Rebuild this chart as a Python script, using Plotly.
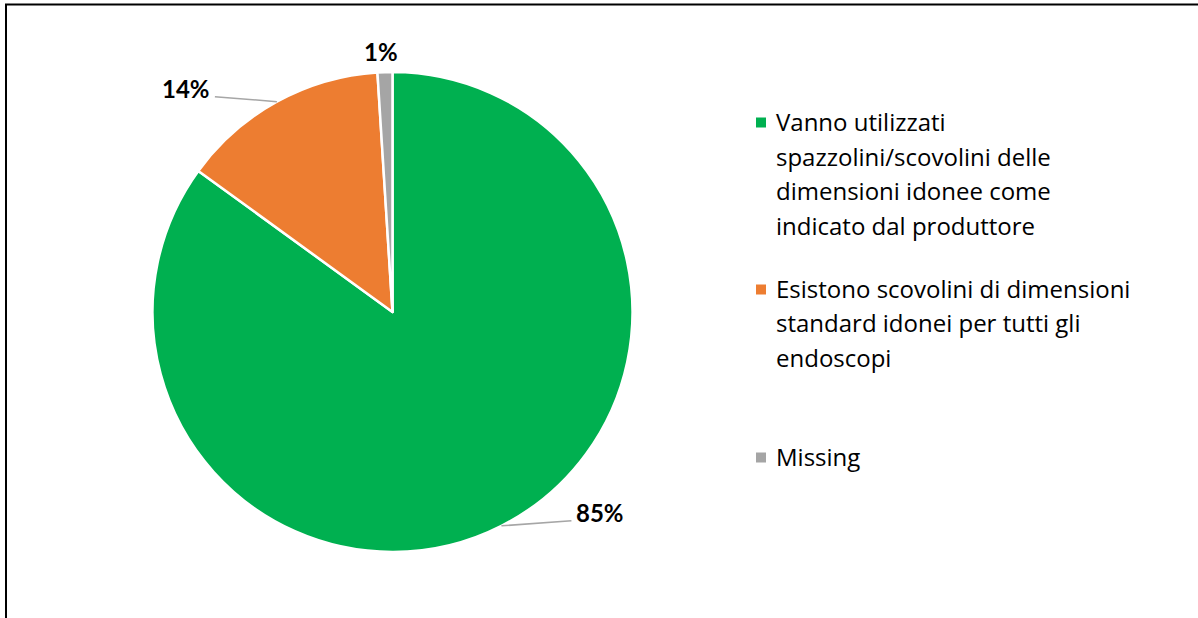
import math
import plotly.graph_objects as go

# --- data ---------------------------------------------------------------
categories = [
    "Vanno utilizzati spazzolini/scovolini delle dimensioni idonee come indicato dal produttore",
    "Esistono scovolini di dimensioni standard idonei per tutti gli endoscopi",
    "Missing",
]
legend_lines = [
    ["Vanno utilizzati", "spazzolini/scovolini delle", "dimensioni idonee come", "indicato dal produttore"],
    ["Esistono scovolini di dimensioni", "standard idonei per tutti gli", "endoscopi"],
    ["Missing"],
]
percentages = [85, 14, 1]
colors = ["#00B050", "#ED7D31", "#A5A5A5"]

# --- geometry (pixels) --------------------------------------------------
W, H = 1198, 618
CX, CY, R = 392.5, 312.0, 240.0

# label placement relative to the slice's mid-point on the rim: (label dx, dy, leader end dx, dy)
label_offsets = [(99, -13, 70, -5), (-91, -13, -62, -5), (-3.5, -20.5, None, None)]


def px(x):
    return x / W


def py(y):
    return 1 - y / H


fig = go.Figure(
    go.Pie(
        labels=categories,
        values=percentages,
        marker=dict(colors=colors, line=dict(color="white", width=2.5)),
        sort=False,
        direction="clockwise",
        rotation=0,
        textinfo="none",
        hoverinfo="label+percent",
        showlegend=False,
        domain=dict(x=[px(CX - R), px(CX + R)], y=[py(CY + R), py(CY - R)]),
    )
)

annotations = []
shapes = []

# percentage labels with leader lines, positioned from each slice's mid angle
total = sum(percentages)
cum = 0.0
for val, (ldx, ldy, ex, ey) in zip(percentages, label_offsets):
    mid = (cum + val / 2) / total
    cum += val
    theta = 2 * math.pi * mid
    ax = CX + R * math.sin(theta)
    ay = CY - R * math.cos(theta)
    annotations.append(dict(
        x=px(ax + ldx), y=py(ay + ldy), xref="paper", yref="paper",
        text=f"<b>{val}%</b>", showarrow=False, xanchor="center", yanchor="middle",
        font=dict(family="Lato", size=24, color="#000000"),
    ))
    if ex is not None:
        shapes.append(dict(
            type="line", xref="paper", yref="paper",
            x0=px(ax), y0=py(ay), x1=px(ax + ex), y1=py(ay + ey),
            line=dict(color="#A6A6A6", width=1.5),
        ))

# legend: colour squares and wrapped entries
item_tops = [121.5, 288.5, 456.5]
line_step = 34.5
for lines, color, top in zip(legend_lines, colors, item_tops):
    shapes.append(dict(
        type="rect", xref="paper", yref="paper",
        x0=px(756), x1=px(766), y0=py(top + 6), y1=py(top - 4),
        fillcolor=color, line=dict(width=0),
    ))
    for i, line in enumerate(lines):
        annotations.append(dict(
            x=px(774), y=py(top + i * line_step), xref="paper", yref="paper",
            text=line, showarrow=False, xanchor="left", yanchor="middle",
            font=dict(family="Open Sans", size=24, color="#000000"),
        ))

# chart frame
shapes.append(dict(
    type="rect", xref="paper", yref="paper",
    x0=px(6), x1=1.05, y0=-0.05, y1=py(4.5),
    line=dict(color="#000000", width=2), fillcolor="rgba(0,0,0,0)",
))

fig.update_layout(
    width=W, height=H,
    margin=dict(l=0, r=0, t=0, b=0),
    paper_bgcolor="white", plot_bgcolor="white",
    annotations=annotations, shapes=shapes,
)

fig.write_html("out.html")
